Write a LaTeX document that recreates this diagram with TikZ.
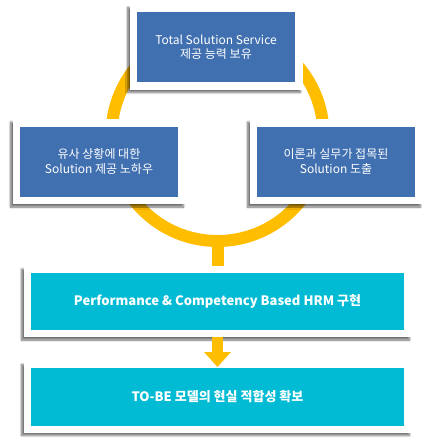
\documentclass[tikz,border=0pt]{standalone}
\usepackage{fontspec}
\setmainfont{Noto Sans CJK KR}
\usetikzlibrary{arrows.meta,shadows.blur}

\definecolor{boxblue}{RGB}{65,112,177}
\definecolor{boxcyan}{RGB}{0,187,211}
\definecolor{ringgold}{RGB}{255,189,0}

\tikzset{
    frame/.style={fill=white, inner sep=0pt, minimum width=#1+15pt,
        blur shadow={shadow xshift=-2pt, shadow yshift=-3pt, shadow blur radius=2pt,
            shadow blur steps=6, shadow opacity=55}},
    bluebox/.style={fill=boxblue, text=white, inner sep=0pt, align=center,
        minimum width=158pt, minimum height=70pt, font=\fontsize{12}{14.5}\selectfont},
    cyanbox/.style={fill=boxcyan, text=white, inner sep=0pt, align=center,
        minimum width=373pt, minimum height=57pt, font=\bfseries\fontsize{13}{15}\selectfont},
    ring/.style={draw=ringgold, line width=12pt},
    flow/.style={draw=ringgold, line width=11pt, -{Triangle[width=26pt,length=15pt]}},
}

\begin{document}
\begin{tikzpicture}[x=1pt,y=-1pt]
    \useasboundingbox (0,0) rectangle (430,445);

    %% the gold ring behind the three boxes
    \draw[ring] (217.5,135) circle (106);
    \coordinate (ringbot) at (217.5,241);

    %% white frames
    \node[frame=158pt, minimum height=85pt] (topF)   at (216,47)      {};
    \node[frame=158pt, minimum height=85pt] (leftF)  at (99,161.5)    {};
    \node[frame=158pt, minimum height=85pt] (rightF) at (336,161.5)   {};
    \node[frame=373pt, minimum height=71pt] (perfF)  at (217.5,301.5) {};
    \node[frame=373pt, minimum height=71pt] (tobeF)  at (217.5,397)   {};

    %% boxes
    \node[bluebox] (top)   at (topF)   {Total Solution Service\\제공 능력 보유};
    \node[bluebox] (left)  at (leftF)  {유사 상황에 대한\\Solution 제공 노하우};
    \node[bluebox] (right) at (rightF) {이론과 실무가 접목된\\Solution 도출};
    \node[cyanbox] (perf)  at (perfF)  {Performance \& Competency Based HRM 구현};
    \node[cyanbox, minimum height=58pt] (tobe) at (tobeF) {TO-BE 모델의 현실 적합성 확보};

    %% connectors
    \coordinate (tip) at (217.5,367);
    \draw[ring] (ringbot) -- (perfF.north);
    \draw[flow] (perfF.south) -- (tip);
\end{tikzpicture}
\end{document}
